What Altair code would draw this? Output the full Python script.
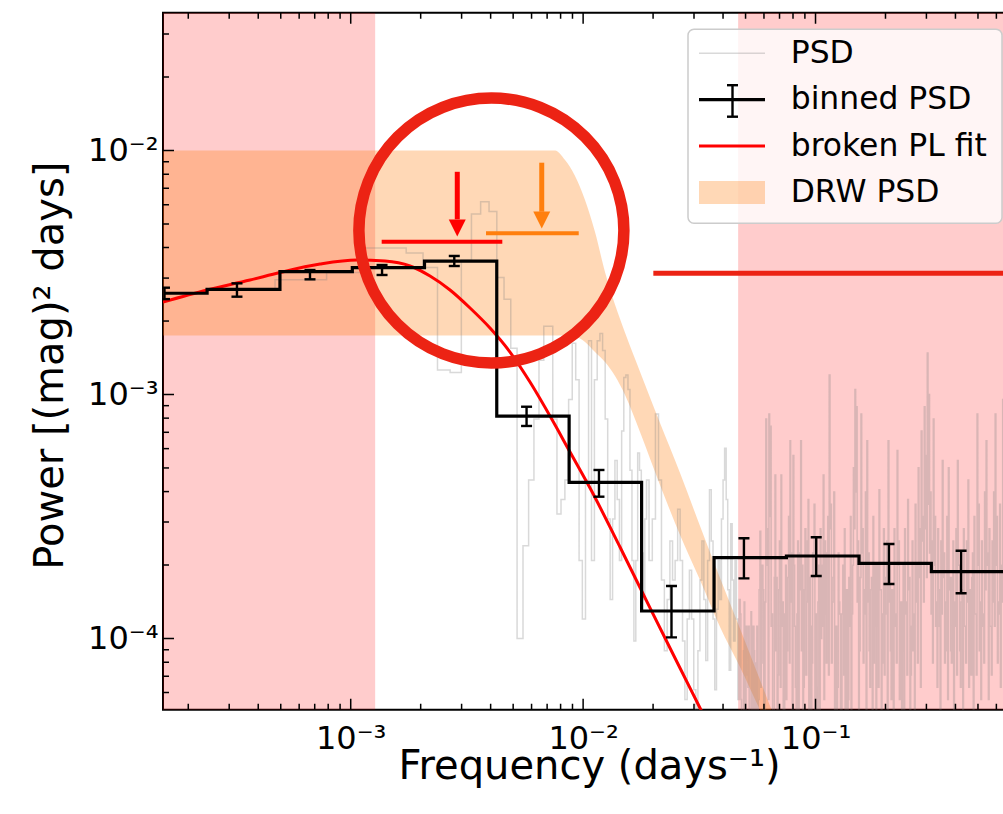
import altair as alt
import pandas as pd

FONT = "DejaVu Sans"

# Axes extent; the right end of the axes runs past the page edge
F_MIN, F_MAX = 1.557e-4, 0.7216
P_MIN, P_MAX = 5.107e-5, 0.03671
W, H = 852, 697

# Frequency ranges left out of the fit (shaded)
excluded_lo = [1.5e-4, 4.645e-2]
excluded_hi = [1.274e-3, 2.0]

# DRW PSD band (upper / lower envelope)
drw_freq = [1.5e-4, 7.569e-3, 8.359e-3, 9.230e-3, 1.019e-2, 1.125e-2, 1.242e-2, 1.372e-2,
            1.515e-2, 1.757e-2, 2.142e-2, 2.612e-2, 3.184e-2, 3.882e-2, 4.732e-2, 5.770e-2, 7.035e-2]
drw_upper = [1.0e-2, 1.0e-2, 9.14e-3, 7.86e-3, 6.27e-3, 4.63e-3, 3.18e-3, 2.33e-3,
             1.79e-3, 1.24e-3, 7.64e-4, 4.77e-4, 2.89e-4, 1.77e-4, 1.10e-4, 6.76e-5, 4.14e-5]
drw_lower = [1.745e-3, 1.745e-3, 1.745e-3, 1.728e-3, 1.641e-3, 1.493e-3, 1.359e-3, 1.191e-3,
             9.95e-4, 7.02e-4, 4.26e-4, 2.655e-4, 1.737e-4, 1.114e-4, 7.64e-5, 5.09e-5, 3.43e-5]

# Raw periodogram: harmonics of the frequency resolution, log10 power
DF = 3.15e-4
psd_harmonic = (list(range(1, 61)) + list(range(62, 151, 2))
                + [round(150 * 1.0075 ** i) for i in range(1, 351)])
psd_log10_power = [
    -2.57, -2.53, -2.50, -2.40, -2.40, -2.42, -2.48, -2.90, -2.91, -2.45,
    -2.26, -2.21, -2.25, -2.52, -2.61, -2.81, -4.00, -3.62, -3.35, -3.10,
    -2.86, -2.72, -2.72, -3.10, -3.49, -3.43, -3.35, -3.02, -2.79, -2.94,
    -3.68, -3.92, -3.35, -2.78, -3.68, -2.94, -2.78, -2.75, -2.82, -3.10,
    -3.51, -3.84, -3.51, -3.27, -3.43, -3.68, -3.15, -2.93, -2.92, -2.98,
    -3.31, -3.68, -4.01, -3.68, -3.24, -3.31, -3.65, -3.84, -3.51, -3.35,
    # every second harmonic
    -3.68, -3.51, -3.08, -3.35, -3.76, -4.05, -3.84, -3.60, -3.76, -3.68,
    -3.47, -3.68, -4.01, -4.25, -3.92, -3.72, -3.92, -4.21, -4.42, -4.05,
    -3.76, -3.60, -3.84, -4.09, -3.68, -3.39, -3.60, -3.92, -4.21, -3.88,
    -3.68, -3.84, -3.51, -3.35, -3.22, -3.43, -3.80, -4.13, -3.53, -3.76,
    -4.01, -3.68, -3.92, -4.25, -3.84,
    # high-frequency end
    -3.90, -4.25, -4.35, -4.60, -4.05, -3.85, -4.50, -4.40, -3.95, -4.15,
    -4.20, -3.95, -4.60, -4.45, -3.89, -4.20, -4.30, -3.95, -4.05, -4.55,
    -4.45, -4.10, -3.95, -4.30, -4.25, -3.80, -3.56, -4.20, -4.10, -3.70,
    -3.80, -4.45, -4.40, -3.85, -3.10, -3.55, -3.70, -4.25, -3.08, -3.50,
    -3.13, -3.95, -3.90, -4.50, -4.30, -3.75, -3.33, -4.05, -3.75, -4.35,
    -4.15, -3.80, -3.60, -4.20, -3.33, -3.95, -3.85, -4.55, -4.35, -3.90,
    -3.70, -4.25, -4.05, -3.75, -3.50, -4.10, -3.19, -3.85, -3.65, -4.40,
    -3.25, -3.70, -3.95, -4.20, -4.40, -3.90, -3.60, -4.35, -3.80, -3.65,
    -3.19, -4.05, -3.70, -4.45, -4.20, -3.80, -3.55, -4.15, -3.85, -3.60,
    -3.43, -4.30, -3.75, -3.95, -4.30, -4.10, -3.65, -3.75, -3.45, -4.40,
    -3.90, -4.20, -4.45, -3.85, -3.70, -4.35, -3.55, -4.00, -3.95, -3.70,
    -3.33, -4.25, -3.60, -3.90, -4.10, -3.65, -3.50, -4.15, -2.92, -3.55,
    -3.45, -4.10, -3.85, -3.75, -3.40, -4.40, -4.05, -3.95, -4.50, -4.20,
    -3.65, -3.85, -3.90, -4.55, -4.35, -3.90, -3.70, -4.15, -3.55, -4.35,
    -4.00, -3.80, -4.40, -4.25, -3.75, -3.95, -3.50, -4.45, -3.90, -3.70,
    -3.30, -3.55, -2.98, -3.40, -3.05, -3.85, -3.60, -4.30, -4.05, -3.75,
    -3.08, -3.65, -3.55, -4.10, -3.80, -3.90, -3.40, -4.35, -3.19, -3.85,
    -3.65, -4.05, -4.20, -3.80, -3.75, -4.40, -3.50, -4.10, -3.95, -3.70,
    -4.35, -3.95, -3.70, -4.20, -3.39, -3.80, -3.80, -4.45, -4.10, -3.90,
    -3.55, -4.15, -3.90, -3.75, -3.60, -4.30, -3.19, -3.85, -3.70, -4.05,
    -4.25, -3.80, -3.85, -4.35, -3.55, -3.95, -3.90, -4.10, -3.23, -3.70,
    -3.60, -4.25, -4.00, -3.85, -4.45, -4.05, -3.70, -4.40, -3.55, -3.90,
    -3.85, -4.15, -3.43, -3.80, -3.75, -4.30, -4.15, -3.95, -3.60, -4.05,
    -3.90, -4.40, -3.45, -3.85, -3.70, -4.10, -3.30, -3.75, -3.55, -4.20,
    -3.15, -3.60, -3.50, -3.85, -3.05, -3.55, -3.25, -3.75, -2.83, -3.45,
    -3.00, -3.65, -3.40, -3.90, -3.60, -4.10, -3.10, -3.70, -3.50, -3.95,
    -3.85, -4.20, -3.55, -3.80, -3.95, -4.35, -3.60, -3.90, -3.27, -3.75,
    -3.65, -4.10, -4.05, -3.85, -3.50, -4.25, -3.30, -3.80, -3.75, -4.05,
    -4.10, -3.75, -3.60, -4.30, -3.85, -3.95, -3.55, -4.15, -3.27, -3.70,
    -3.70, -4.05, -4.20, -3.85, -3.80, -4.40, -3.55, -3.95, -3.95, -4.10,
    -3.60, -3.85, -3.35, -4.20, -3.80, -4.00, -4.15, -3.75, -3.65, -4.30,
    -3.50, -3.90, -3.90, -4.15, -3.08, -3.70, -3.45, -4.05, -3.85, -4.25,
    -3.60, -3.90, -3.95, -4.10, -3.40, -3.80, -3.19, -3.65, -3.70, -4.25,
    -3.55, -3.95, -3.95, -4.15, -3.60, -3.85, -3.40, -3.95, -3.08, -3.70,
    -3.50, -4.10, -3.85, -3.90, -3.45, -4.20, -3.70, -3.85, -3.02, -3.75,
]

# Binned PSD with 1-sigma ranges
bin_freq = [1.58e-4, 3.24e-4, 6.68e-4, 1.364e-3, 2.79e-3, 5.71e-3, 1.170e-2, 2.40e-2,
            4.92e-2, 0.1007, 0.207, 0.423]
bin_power = [2.600e-3, 2.698e-3, 3.187e-3, 3.309e-3, 3.524e-3, 8.16e-4, 4.366e-4, 1.296e-4,
             2.144e-4, 2.178e-4, 2.033e-4, 1.878e-4]
bin_err_lo = [2.46e-3, 2.517e-3, 2.965e-3, 3.089e-3, 3.362e-3, 7.43e-4, 3.812e-4, 1.011e-4,
              1.764e-4, 1.804e-4, 1.672e-4, 1.532e-4]
bin_err_hi = [2.74e-3, 2.855e-3, 3.237e-3, 3.394e-3, 3.695e-3, 8.91e-4, 4.905e-4, 1.641e-4,
              2.574e-4, 2.598e-4, 2.439e-4, 2.290e-4]

# Broken power-law fit
fit_freq = [1.557e-4, 2.408e-4, 3.687e-4, 4.963e-4, 7.378e-4, 1.064e-3, 1.405e-3, 1.800e-3,
            2.194e-3, 2.675e-3, 3.262e-3, 3.975e-3, 4.846e-3, 5.908e-3, 7.204e-3, 8.783e-3,
            1.071e-2, 1.441e-2, 1.940e-2, 2.611e-2, 3.184e-2, 3.882e-2]
fit_power = [2.393e-3, 2.681e-3, 2.945e-3, 3.162e-3, 3.425e-3, 3.557e-3, 3.524e-3, 3.362e-3,
             3.059e-3, 2.681e-3, 2.262e-3, 1.873e-3, 1.493e-3, 1.125e-3, 8.16e-4, 5.81e-4,
             4.136e-4, 2.371e-4, 1.334e-4, 7.57e-5, 5.19e-5, 3.557e-5]

# Break frequencies: best value (arrow) and range (bar)
brk_freq = [2.874e-3, 6.636e-3]
brk_lo = [1.359e-3, 3.821e-3]
brk_hi = [4.49e-3, 9.574e-3]
brk_level = [4.227e-3, 4.578e-3]
brk_arrow_top = [8.18e-3, 8.913e-3]
brk_arrow_base = [5.224e-3, 5.612e-3]
brk_arrow_head = [4.813e-3, 5.190e-3]
brk_color = ["#ff0000", "#ff7f0e"]

# Highlight ring around the break region and marker line on the right
ring_freq, ring_power = [4.030e-3], [4.699e-3]
mark_line_lo, mark_line_hi, mark_line_level = [2.005e-2], [2.0], [3.138e-3]

legend_labels = ["PSD", "binned PSD", "broken PL fit", "DRW PSD"]

# ---------------------------------------------------------------- scales / axes
xs = alt.Scale(type="log", domain=[F_MIN, F_MAX], nice=False)
ys = alt.Scale(type="log", domain=[P_MIN, P_MAX], nice=False)

x_axis = alt.Axis(
    values=[1e-3, 1e-2, 1e-1],
    labelExpr="datum.value < 0.005 ? '10⁻³' : datum.value < 0.05 ? '10⁻²' : '10⁻¹'",
    title="Frequency (days⁻¹)", ticks=False, tickSize=0, domain=False, grid=False,
    labelFont=FONT, labelFontSize=32, labelColor="black", labelPadding=14,
    labelOverlap=False, labelFlush=False, labelBaseline="top",
    titleFont=FONT, titleFontSize=40, titleColor="black", titleFontWeight="normal",
    titleX=W / 2, titleY=69, titleAlign="center", titleBaseline="alphabetic",
)
y_axis = alt.Axis(
    values=[1e-4, 1e-3, 1e-2],
    labelExpr="datum.value < 0.0005 ? '10⁻⁴' : datum.value < 0.005 ? '10⁻³' : '10⁻²'",
    title="Power [(mag)² days]", ticks=False, tickSize=0, domain=False, grid=False,
    labelFont=FONT, labelFontSize=32, labelColor="black", labelPadding=5,
    labelOverlap=False, labelFlush=False, labelBaseline="middle",
    titleFont=FONT, titleFontSize=40, titleColor="black", titleFontWeight="normal",
    titleX=-101, titleY=H / 2 + 4, titleAngle=270, titleAlign="center",
    titleBaseline="alphabetic",
)


def X(field):
    return alt.X(f"{field}:Q", scale=xs, axis=x_axis)


def Y(field):
    return alt.Y(f"{field}:Q", scale=ys, axis=y_axis)


# ---------------------------------------------------------------- tables
excl_df = pd.DataFrame({"lo": excluded_lo, "hi": excluded_hi})
drw_df = pd.DataFrame({"f": drw_freq, "up": drw_upper, "low": drw_lower})

psd_f = [n * DF for n in psd_harmonic]
psd_p = [10 ** v for v in psd_log10_power]
psd_rows = []
for i, (f, p) in enumerate(zip(psd_f, psd_p)):
    start = f if i == 0 else 0.5 * (psd_f[i - 1] + f)
    psd_rows.append({"f": start, "p": p, "o": i})
psd_rows.append({"f": psd_f[-1], "p": psd_p[-1], "o": len(psd_f)})
psd_df = pd.DataFrame(psd_rows)

bin_rows = []
nb = len(bin_freq)
for k in range(nb):
    left = bin_freq[0] if k == 0 else 0.5 * (bin_freq[k - 1] + bin_freq[k])
    right = 0.5 * (bin_freq[k] + bin_freq[k + 1]) if k < nb - 1 else F_MAX * 1.2
    bin_rows.append({"f": left, "p": bin_power[k], "o": 2 * k})
    bin_rows.append({"f": right, "p": bin_power[k], "o": 2 * k + 1})
bin_line_df = pd.DataFrame(bin_rows)
bin_df = pd.DataFrame({"f": bin_freq, "p": bin_power, "lo": bin_err_lo, "hi": bin_err_hi})

fit_df = pd.DataFrame({"f": fit_freq, "p": fit_power})
brk_df = pd.DataFrame({"f": brk_freq, "lo": brk_lo, "hi": brk_hi, "lvl": brk_level,
                       "top": brk_arrow_top, "base": brk_arrow_base, "head": brk_arrow_head,
                       "c": brk_color})
ring_df = pd.DataFrame({"f": ring_freq, "p": ring_power})
mline_df = pd.DataFrame({"lo": mark_line_lo, "hi": mark_line_hi, "lvl": mark_line_level})

x_major = [1e-3, 1e-2, 1e-1]
x_minor = [m * 10.0 ** e for e in (-4, -3, -2, -1) for m in range(2, 10)
           if F_MIN <= m * 10.0 ** e <= F_MAX]
y_major = [1e-4, 1e-3, 1e-2]
y_minor = [m * 10.0 ** e for e in (-5, -4, -3, -2) for m in range(2, 10)
           if P_MIN <= m * 10.0 ** e <= P_MAX]

# ---------------------------------------------------------------- layers
layers = []

layers.append(alt.Chart(excl_df).mark_rect(color="#ff0000", opacity=0.2, clip=True)
              .encode(x=X("lo"), x2="hi"))
layers.append(alt.Chart(drw_df).mark_area(color="#ff7f0e", opacity=0.3, clip=True,
                                           interpolate="monotone")
              .encode(x=X("f"), y=Y("up"), y2="low"))
layers.append(alt.Chart(psd_df).mark_line(color="#808080", opacity=0.3, strokeWidth=1.5,
                                           interpolate="step-after", clip=True)
              .encode(x=X("f"), y=Y("p"), order="o:Q"))
layers.append(alt.Chart(fit_df).mark_line(color="#ff0000", strokeWidth=3,
                                           interpolate="monotone", clip=True)
              .encode(x=X("f"), y=Y("p")))
layers.append(alt.Chart(bin_line_df).mark_line(color="black", strokeWidth=3.2, clip=True)
              .encode(x=X("f"), y=Y("p"), order="o:Q"))
layers.append(alt.Chart(bin_df).mark_rule(color="black", strokeWidth=2.4, clip=True)
              .encode(x=X("f"), y=Y("lo"), y2="hi"))
for end in ("lo", "hi"):
    layers.append(alt.Chart(bin_df).mark_rule(color="black", strokeWidth=2.4, clip=True,
                                               xOffset=-5.5, x2Offset=5.5)
                  .encode(x=X("f"), x2="f", y=Y(end)))

# break-frequency markers
layers.append(alt.Chart(brk_df).mark_rule(strokeWidth=4)
              .encode(x=X("lo"), x2="hi", y=Y("lvl"), color=alt.Color("c:N", scale=None)))
layers.append(alt.Chart(brk_df).mark_rule(strokeWidth=5)
              .encode(x=X("f"), y=Y("top"), y2="base", color=alt.Color("c:N", scale=None)))
layers.append(alt.Chart(brk_df).mark_point(shape="M-1,-1L1,-1L0,1Z", size=17 ** 2,
                                            filled=True, opacity=1, strokeWidth=0)
              .encode(x=X("f"), y=Y("head"), color=alt.Color("c:N", scale=None)))
layers.append(alt.Chart(mline_df).mark_rule(strokeWidth=5, color="#ec2314", clip=True)
              .encode(x=X("lo"), x2="hi", y=Y("lvl")))
layers.append(alt.Chart(ring_df).mark_point(shape="circle", size=265 ** 2, filled=False,
                                             opacity=1, strokeWidth=11.5, color="#ec2314")
              .encode(x=X("f"), y=Y("p")))

# inward ticks on bottom, top and left spines
for vals, ln in ((x_major, 11), (x_minor, 6)):
    tdf = pd.DataFrame({"t": vals})
    layers.append(alt.Chart(tdf).mark_rule(color="black", strokeWidth=1.5, clip=True)
                  .encode(x=X("t"), y=alt.value(H), y2=alt.value(H - ln)))
    layers.append(alt.Chart(tdf).mark_rule(color="black", strokeWidth=1.5, clip=True)
                  .encode(x=X("t"), y=alt.value(0), y2=alt.value(ln)))
for vals, ln in ((y_major, 11), (y_minor, 6)):
    tdf = pd.DataFrame({"t": vals})
    layers.append(alt.Chart(tdf).mark_rule(color="black", strokeWidth=1.5, clip=True)
                  .encode(y=Y("t"), x=alt.value(0), x2=alt.value(ln)))

# legend box
one = pd.DataFrame({"k": [0]})
LX, LY0, LDY = 525, 16.5, 46.4
layers.append(alt.Chart(one).mark_rect(fill="white", fillOpacity=0.8, stroke="#cccccc",
                                        strokeWidth=1.5, cornerRadius=6)
              .encode(x=alt.value(LX), x2=alt.value(839), y=alt.value(LY0), y2=alt.value(210.5)))
sx0, sx1 = 536, 602
rows_y = [40.6 + LDY * i for i in range(4)]
layers.append(alt.Chart(one).mark_rule(color="#808080", opacity=0.3, strokeWidth=1.5)
              .encode(x=alt.value(sx0), x2=alt.value(sx1), y=alt.value(rows_y[0])))
layers.append(alt.Chart(one).mark_rule(color="black", strokeWidth=3.2)
              .encode(x=alt.value(sx0), x2=alt.value(sx1), y=alt.value(rows_y[1])))
layers.append(alt.Chart(one).mark_rule(color="black", strokeWidth=2.4)
              .encode(x=alt.value(569.5), y=alt.value(rows_y[1] - 14.5), y2=alt.value(rows_y[1] + 17)))
for dy in (-14.5, 17):
    layers.append(alt.Chart(one).mark_rule(color="black", strokeWidth=2.4)
                  .encode(x=alt.value(564), x2=alt.value(575), y=alt.value(rows_y[1] + dy)))
layers.append(alt.Chart(one).mark_rule(color="#ff0000", strokeWidth=3)
              .encode(x=alt.value(sx0), x2=alt.value(sx1), y=alt.value(rows_y[2])))
layers.append(alt.Chart(one).mark_rect(color="#ff7f0e", opacity=0.3)
              .encode(x=alt.value(sx0), x2=alt.value(sx1),
                      y=alt.value(rows_y[3] - 11.6), y2=alt.value(rows_y[3] + 11.6)))
for i, lab in enumerate(legend_labels):
    layers.append(alt.Chart(one).mark_text(font=FONT, fontSize=31.4, align="left",
                                            baseline="middle", color="black")
                  .encode(x=alt.value(627.7), y=alt.value(rows_y[i] + 0.7), text=alt.value(lab)))

chart = (
    alt.layer(*layers)
    .properties(width=W, height=H, autosize=alt.AutoSizeParams(type="none"),
                padding={"left": 163, "top": 12.7, "right": -12, "bottom": 104.3})
    .configure(font=FONT)
    .configure_view(stroke="black", strokeWidth=2)
)

chart.save("out.html", embed_options={"renderer": "svg", "actions": False})
